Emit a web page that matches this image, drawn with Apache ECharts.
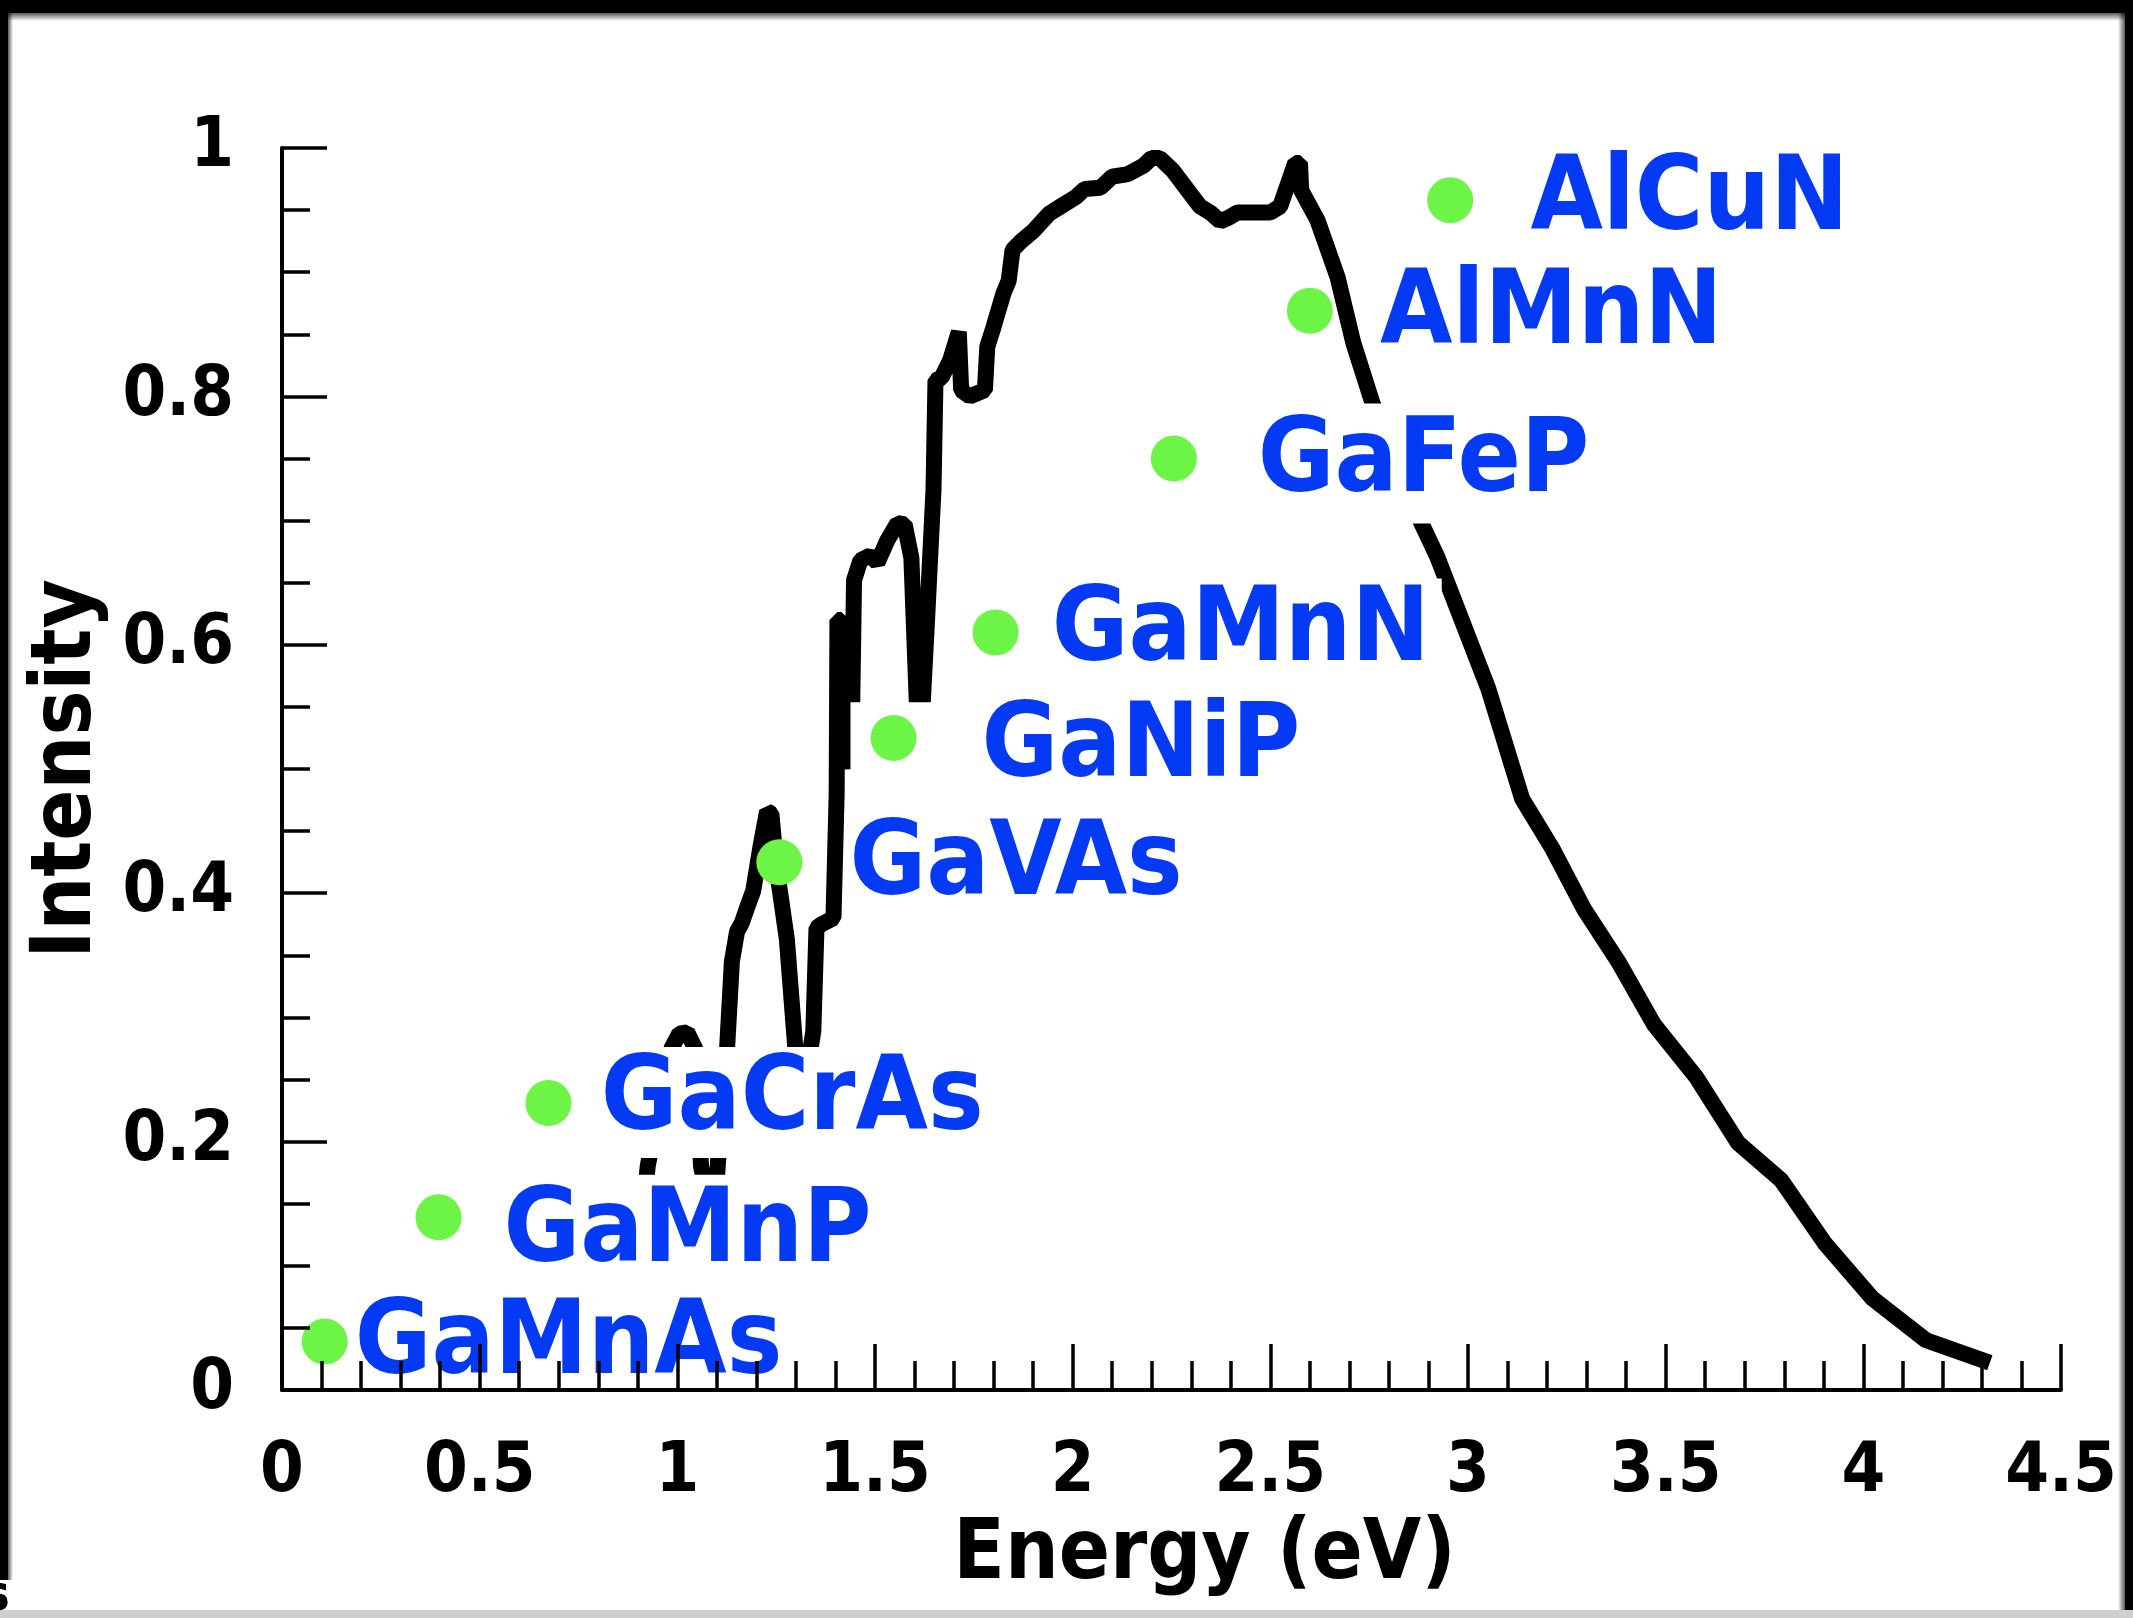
<!DOCTYPE html>
<html>
<head>
<meta charset="utf-8">
<title>Intensity vs Energy</title>
<script src="https://cdn.jsdelivr.net/npm/echarts@6/dist/echarts.min.js"></script>
<style>
html, body { margin: 0; padding: 0; background: #fff; }
#main { width: 2133px; height: 1618px; }
</style>
</head>
<body>
<div id="main"></div>
<script>
// spectrum curve: energy (eV) and intensity
var energy = [0.86, 0.90, 0.925, 0.96, 0.985, 1.005, 1.025, 1.045, 1.06, 1.08,
    1.10, 1.115, 1.126, 1.138, 1.151, 1.163, 1.176, 1.192, 1.210, 1.227,
    1.238, 1.249, 1.277, 1.298, 1.315, 1.33, 1.344, 1.352, 1.365, 1.395,
    1.403, 1.405, 1.415, 1.44, 1.447, 1.463, 1.488, 1.506, 1.531, 1.557,
    1.575, 1.592, 1.612, 1.632, 1.648, 1.653, 1.668, 1.690, 1.712, 1.718,
    1.74, 1.778, 1.784, 1.80, 1.825, 1.838, 1.848, 1.87, 1.90, 1.94,
    1.97, 2.01, 2.03, 2.07, 2.10, 2.14, 2.18, 2.20, 2.22, 2.253,
    2.322, 2.348, 2.373, 2.395, 2.416, 2.50, 2.525, 2.563, 2.575, 2.578,
    2.619, 2.670, 2.710, 2.758, 2.82, 2.882, 2.922, 3.051, 3.137, 3.215,
    3.294, 3.380, 3.471, 3.577, 3.683, 3.792, 3.903, 4.022, 4.159, 4.32];
var intensity = [0.01, 0.10, 0.18, 0.24, 0.275, 0.287, 0.288, 0.275, 0.18, 0.15,
    0.17, 0.24, 0.276, 0.345, 0.369, 0.376, 0.388, 0.402, 0.437, 0.466,
    0.464, 0.425, 0.363, 0.277, 0.255, 0.26, 0.289, 0.372, 0.375, 0.38,
    0.48, 0.62, 0.62, 0.50, 0.652, 0.668, 0.672, 0.666, 0.684, 0.698,
    0.697, 0.67, 0.50, 0.622, 0.725, 0.813, 0.815, 0.829, 0.852, 0.805,
    0.80, 0.805, 0.84, 0.856, 0.883, 0.893, 0.918, 0.925, 0.933, 0.947,
    0.953, 0.961, 0.967, 0.968, 0.977, 0.979, 0.986, 0.992, 0.992, 0.982,
    0.953, 0.948, 0.941, 0.944, 0.948, 0.948, 0.953, 0.988, 0.988, 0.966,
    0.942, 0.896, 0.843, 0.795, 0.745, 0.698, 0.671, 0.565, 0.476, 0.435,
    0.387, 0.345, 0.294, 0.252, 0.199, 0.169, 0.118, 0.074, 0.040, 0.022];

// compounds marked on the curve
var names = ['GaMnAs', 'GaMnP', 'GaCrAs', 'GaVAs', 'GaNiP', 'GaMnN', 'GaFeP', 'AlMnN', 'AlCuN'];
var dotEnergy = [0.108, 0.396, 0.674, 1.258, 1.547, 1.805, 2.256, 2.600, 2.955];
var dotIntensity = [0.039, 0.139, 0.231, 0.425, 0.525, 0.610, 0.750, 0.869, 0.958];

// label layout (px): gap from dot to text, vertical shift, white box padding
var labelGap = [29.5, 64.4, 51.8, 69.6, 87.4, 55.7, 83.4, 69.7, 79.7];
var labelLift = [6.6, 9.5, 2.8, 5.4, 4.2, 2, 6, 6.3, 2.5];
var labelPad = [
    [18, 12, 14, 12],
    [12, 12, 26, 12],
    [19, 12, 12, 12],
    [16, 12, 14, 5],
    [0, 12, 14, 131],
    [16, 12, 14, 12],
    [21, 12, 19, 12],
    [16, 12, 14, 8],
    [16, 12, 14, 12]
];

var FONT = '"DejaVu Sans Condensed", "DejaVu Sans", sans-serif';

var curve = energy.map(function (e, i) { return [e, intensity[i]]; });
var dots = dotEnergy.map(function (e, i) { return [e, dotIntensity[i]]; });
var labelData = names.map(function (n, i) {
    var p = labelPad[i];
    return {
        value: [dotEnergy[i], dotIntensity[i]],
        label: {
            padding: p,
            offset: [labelGap[i] - p[3], labelLift[i] + (p[2] - p[0]) / 2]
        }
    };
});

var myChart = echarts.init(document.getElementById('main'));

var edgeFade = function (x1, y1, x2, y2) {
    return new echarts.graphic.LinearGradient(x1, y1, x2, y2, [
        { offset: 0, color: 'rgba(0,0,0,0.65)' },
        { offset: 1, color: 'rgba(0,0,0,0)' }
    ]);
};

var option = {
    animation: false,
    backgroundColor: '#fff',
    grid: { left: 282, right: 72, top: 148, bottom: 228, containLabel: false },
    xAxis: {
        type: 'value',
        min: 0,
        max: 4.5,
        interval: 0.5,
        z: 10,
        axisLine: { show: true, onZero: false, lineStyle: { color: '#000', width: 4 } },
        axisTick: { show: true, inside: true, length: 46, lineStyle: { color: '#000', width: 3.5 } },
        minorTick: { show: true, splitNumber: 5, length: 29, lineStyle: { color: '#000', width: 3.5 } },
        splitLine: { show: false },
        minorSplitLine: { show: false },
        axisLabel: { color: '#000', fontFamily: FONT, fontWeight: 'bold', fontSize: 70, margin: 48 },
        name: 'Energy (eV)',
        nameLocation: 'middle',
        nameGap: 124,
        nameTextStyle: { color: '#000', fontFamily: FONT, fontWeight: 'bold', fontSize: 84, padding: [0, 0, 0, 66] }
    },
    yAxis: {
        type: 'value',
        min: 0,
        max: 1,
        interval: 0.2,
        z: 10,
        axisLine: { show: true, onZero: false, lineStyle: { color: '#000', width: 4 } },
        axisTick: { show: true, inside: true, length: 45, lineStyle: { color: '#000', width: 3.5 } },
        minorTick: { show: true, splitNumber: 4, length: 28, lineStyle: { color: '#000', width: 3.5 } },
        splitLine: { show: false },
        minorSplitLine: { show: false },
        axisLabel: { color: '#000', fontFamily: FONT, fontWeight: 'bold', fontSize: 70, margin: 48 },
        name: 'Intensity',
        nameLocation: 'middle',
        nameGap: 172,
        nameTextStyle: { color: '#000', fontFamily: FONT, fontWeight: 'bold', fontSize: 84 }
    },
    series: [
        {
            name: 'spectrum',
            type: 'line',
            data: curve,
            symbol: 'none',
            showSymbol: false,
            silent: true,
            z: 2,
            lineStyle: { color: '#000', width: 16 }
        },
        {
            name: 'labels',
            type: 'scatter',
            data: labelData,
            symbol: 'circle',
            symbolSize: 1,
            silent: true,
            z: 3,
            itemStyle: { color: 'rgba(0,0,0,0)', opacity: 1 },
            label: {
                show: true,
                position: 'right',
                distance: 0,
                align: 'left',
                verticalAlign: 'middle',
                formatter: function (p) { return names[p.dataIndex]; },
                color: '#053af5',
                opacity: 1,
                fontFamily: FONT,
                fontWeight: 'bold',
                fontSize: 104,
                lineHeight: 80,
                backgroundColor: '#fff'
            }
        },
        {
            name: 'dots',
            type: 'scatter',
            data: dots,
            symbolSize: 46,
            silent: true,
            z: 4,
            itemStyle: { color: '#6cf547', opacity: 1 }
        }
    ],
    graphic: [
        { type: 'rect', z: 100, shape: { x: 0, y: 0, width: 2133, height: 13 }, style: { fill: '#000' } },
        { type: 'rect', z: 100, shape: { x: 0, y: 13, width: 2133, height: 8 }, style: { fill: edgeFade(0, 0, 0, 1) } },
        { type: 'rect', z: 100, shape: { x: 0, y: 0, width: 8, height: 1580 }, style: { fill: '#000' } },
        { type: 'rect', z: 100, shape: { x: 8, y: 13, width: 5, height: 1567 }, style: { fill: edgeFade(0, 0, 1, 0) } },
        { type: 'rect', z: 100, shape: { x: 2125, y: 0, width: 8, height: 1610 }, style: { fill: '#000' } },
        { type: 'rect', z: 100, shape: { x: 2118, y: 13, width: 7, height: 1597 }, style: { fill: edgeFade(1, 0, 0, 0) } },
        { type: 'rect', z: 100, shape: { x: 0, y: 1610, width: 2133, height: 8 }, style: { fill: '#cfcfcf' } },
        { type: 'text', z: 100, style: { text: 's', x: -17, y: 1572, fill: '#000', fontSize: 50, fontWeight: 'bold', fontFamily: FONT } }
    ]
};

myChart.setOption(option);
</script>
</body>
</html>
